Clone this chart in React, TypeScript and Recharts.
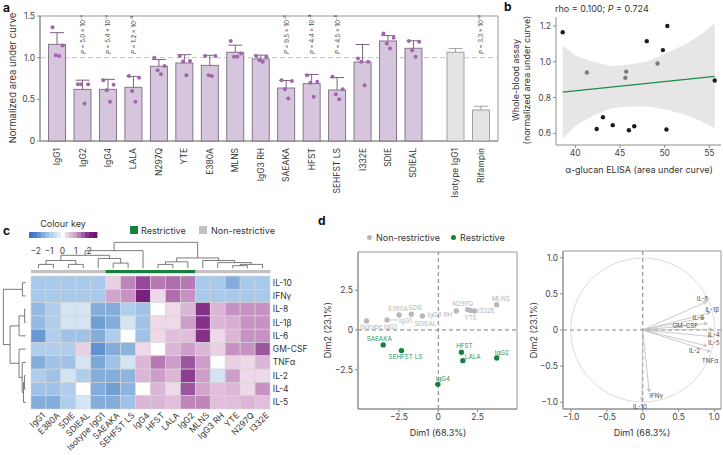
import React from "react";
import {
  ComposedChart,
  ScatterChart,
  Scatter,
  Line,
  Area,
  XAxis,
  YAxis,
  ErrorBar,
  ReferenceLine,
  ReferenceArea,
  ReferenceDot,
} from "recharts";

const FONT = "Inter, 'Liberation Sans', Arial, sans-serif";
const INK = "#333";
const AXIS = "#8c8c8c";
const GREEN = "#17803f";
const tickStyle = { fontSize: 8.5, fill: "#444", fontFamily: FONT };

// ---------- a: whole-blood assay ----------
const variants = ["IgG1", "IgG2", "IgG4", "LALA", "N297Q", "YTE", "E380A", "MLNS", "IgG3 RH", "SAEAKA", "HFST", "SEHFST LS", "I332E", "SDIE", "SDIEAL"];
const variantMean = [1.16, 0.62, 0.62, 0.645, 0.897, 0.936, 0.908, 1.065, 0.985, 0.636, 0.688, 0.612, 0.948, 1.2, 1.113];
const variantSd = [0.14, 0.11, 0.12, 0.13, 0.08, 0.1, 0.12, 0.085, 0.045, 0.09, 0.11, 0.15, 0.21, 0.065, 0.09];
const variantReps = [
  [1.365, 1.145, 1.03, 1.02],
  [0.68, 0.68, 0.68, 0.45],
  [0.73, 0.675, 0.61, 0.47],
  [0.78, 0.76, 0.6, 0.47],
  [1.0, 0.9, 0.85, 0.8],
  [1.02, 0.96, 0.955, 0.79],
  [1.02, 1.02, 0.79, 0.78],
  [1.2, 1.05, 1.01, 1.01],
  [1.02, 1.01, 0.97, 0.95],
  [0.73, 0.72, 0.62, 0.51],
  [0.79, 0.71, 0.7, 0.53],
  [0.77, 0.62, 0.56, 0.5],
  [0.99, 0.95, 0.95, 0.67],
  [1.29, 1.24, 1.17, 1.11],
  [1.2, 1.19, 1.09, 1.01],
];
const controls = ["Isotype IgG1", "Rifampin"];
const controlMean = [1.065, 0.372];
const controlSd = [0.045, 0.045];
const pNames = ["IgG2", "IgG4", "LALA", "SAEAKA", "HFST", "SEHFST LS", "Rifampin"];
const pTexts = ["5.0 × 10⁻⁴", "5.4 × 10⁻⁴", "1.2 × 10⁻³", "9.5 × 10⁻⁵", "4.4 × 10⁻³", "4.5 × 10⁻⁵", "3.3 × 10⁻⁶"];

// ---------- b: correlation ----------
const elisaX = [38.6, 41.3, 42.4, 43.1, 44.2, 45.6, 45.7, 46.0, 46.6, 48.0, 49.2, 49.8, 50.3, 50.2, 55.6];
const bloodY = [1.165, 0.94, 0.624, 0.69, 0.646, 0.91, 0.945, 0.617, 0.64, 1.115, 0.99, 1.065, 1.2, 0.622, 0.895];
const greyPoint = [false, true, false, false, false, true, true, false, false, false, true, false, false, false, false];
const fitX = [38.6, 55.6];
const fitY = [0.83, 0.918];
const bandX = [38.6, 40, 42, 44, 46, 48, 50, 52, 54, 55.6];
const bandLo = [0.57, 0.64, 0.7, 0.74, 0.75, 0.75, 0.735, 0.71, 0.67, 0.628];
const bandHi = [1.09, 1.035, 1.0, 0.975, 0.985, 1.0, 1.045, 1.09, 1.15, 1.217];

// ---------- c: heatmap ----------
const cytokines = ["IL-10", "IFNγ", "IL-8", "IL-1β", "IL-6", "GM-CSF", "TNFα", "IL-2", "IL-4", "IL-5"];
const heatCols = ["IgG1", "E380A", "SDIE", "SDIEAL", "Isotype IgG1", "SAEAKA", "SEHFST LS", "IgG4", "HFST", "LALA", "IgG2", "MLNS", "IgG3 RH", "YTE", "N297Q", "I332E"];
const restrictive = ["SAEAKA", "SEHFST LS", "IgG4", "HFST", "LALA", "IgG2"];
const zScores = [
  [-1, -1, -1, -1, -1, 0.4, 1.2, 1.7, 1.3, 1.4, 1.3, -1, -1, -1.4, -1, -1],
  [-1, -1, -1, -1, -1, 0.9, 1.1, 2.1, 0.3, 1.4, 1.1, -1, -1, -1, -1, -1],
  [-1.2, -0.9, -0.4, -0.4, -1.4, -1.4, -0.9, -1.1, 0, 0.3, 0.7, 1.9, 0.7, 1.1, 1.1, 1.1],
  [-1.2, -0.9, -0.4, -0.4, -1.6, -1.4, -0.4, -1.1, 0.3, 0.3, 1.0, 1.9, 0.7, 0.8, 1.1, 1.1],
  [-1.7, -0.9, -1.1, -1.1, -1.4, -0.9, 0, -1.1, 0.3, 0.6, 0.6, 1.9, 0.3, 0.7, 1.1, 1.1],
  [-0.9, -0.9, -0.9, 0.4, -1.8, -1.4, -1.3, 0.3, 0, 0.7, 1.0, 0.7, 0.4, 1.1, 1.1, 1.6],
  [-1.4, -1.1, -1.1, -0.4, -1.5, -1.1, -0.4, 0.7, 1.3, 1.0, 1.6, 1.0, 0, 0.4, 0.3, 0.7],
  [-0.9, -1.1, -0.4, -0.9, -1.4, -1.4, -1.3, 0.7, 1.0, 0.7, 1.8, 1.0, -0.4, 1.0, 0.3, 0.3],
  [-1.1, -1.1, -0.9, 0, -1.4, -1.6, -1.3, 0, 0.7, 0.3, 1.6, 0.9, 0.6, 0.7, 0.3, 1.1],
  [-1.4, -1.4, -0.9, -0.4, -1.4, -1.4, -1.1, 0.7, 0.7, 0.6, 1.2, 1.2, 0.6, 0.6, 0.7, 0.6],
];
// [left, right, height]; ids >= n refer to earlier merges
const colMerges = [
  [0, 1, 0.15], [2, 3, 0.15], [16, 17, 0.3], [5, 6, 0.2], [4, 19, 0.38], [18, 20, 0.5], [21, 7, 0.68],
  [8, 9, 0.15], [23, 10, 0.25], [13, 14, 0.1], [25, 15, 0.15], [12, 26, 0.22], [11, 27, 0.3], [24, 28, 0.4], [22, 29, 1.0],
];
const rowMerges = [
  [0, 1, 0.15], [2, 3, 0.05], [11, 4, 0.3], [7, 8, 0.06], [13, 9, 0.1], [6, 14, 0.16], [5, 15, 0.3], [12, 16, 0.7], [10, 17, 1.0],
];
const keySteps = [-2.35, -2.05, -1.75, -1.45, -1.15, -0.85, -0.55, -0.25, 0.05, 0.35, 0.65, 0.95, 1.25, 1.55, 1.85, 2.15, 2.45];
const COLOR_STOPS: [number, string][] = [
  [-2.5, "#3b6db6"], [-2, "#4d84c8"], [-1, "#a8c9e9"], [-0.3, "#dde9f5"], [0, "#ffffff"],
  [0.3, "#eed8e9"], [1, "#cf9dca"], [2, "#7c2581"], [2.5, "#68126d"],
];

// ---------- d: PCA ----------
const pcaNames = ["Isotype IgG1", "IgG1", "E380A", "SDIE", "SDIEAL", "IgG3 RH", "N297Q", "YTE", "I332E", "MLNS", "SAEAKA", "SEHFST LS", "HFST", "LALA", "IgG2", "IgG4"];
const dim1 = [-4.56, -3.25, -2.49, -1.71, -1.01, 1.14, 1.87, 2.05, 2.3, 3.71, -3.5, -2.34, 1.47, 1.56, 3.71, -0.03];
const dim2 = [0.57, 0.63, 0.94, 0.99, 0.88, 1.19, 1.28, 1.22, 1.19, 1.59, -0.94, -1.3, -1.4, -1.93, -1.76, -3.42];
const loadNames = ["IL-8", "IL-1β", "IL-6", "GM-CSF", "IL-4", "IL-5", "IL-2", "TNFα", "IFNγ", "IL-10"];
const loadDim1 = [0.89, 0.94, 0.86, 0.9, 0.965, 0.95, 0.89, 0.94, 0.09, -0.01];
const loadDim2 = [0.39, 0.24, 0.17, 0.09, 0.01, -0.09, -0.22, -0.3, -0.85, -0.98];

// label placement (px offsets from the point), kept apart from the data
const PCA_LABEL: Record<string, [number, number, string]> = {
  "Isotype IgG1": [12, 8, "middle"], IgG1: [12, 3, "start"], E380A: [-1, -4, "middle"], SDIE: [4, -4, "middle"],
  SDIEAL: [3, 10, "middle"], "IgG3 RH": [-4, 6, "end"], N297Q: [-5, -4, "middle"], YTE: [0, 9, "middle"],
  I332E: [3, 2, "start"], MLNS: [4, -4, "middle"], SAEAKA: [-4, -4, "middle"], "SEHFST LS": [4, 8, "middle"],
  HFST: [3, -4, "middle"], LALA: [2, -2, "start"], IgG2: [-2, -3, "start"], IgG4: [-2, -3, "start"],
};
const LOAD_LABEL: Record<string, [number, number]> = {
  "IL-8": [-4, -3], "IL-1β": [2, -3], "IL-6": [-6, 0], "GM-CSF": [-22, 3], "IL-4": [2, 6], "IL-5": [3, 6],
  "IL-2": [-12, 5], TNFα: [0, 9], IFNγ: [7, 5], "IL-10": [-2, 6],
};

function place(L: number, T: number, W: number, H: number, x1: number, y1: number, x2: number, y2: number, yw = 1, xh = 1) {
  return {
    box: { position: "absolute" as const, left: L, top: T, width: W, height: H },
    width: W,
    height: H,
    margin: { left: x1 - L - yw, top: y1 - T, right: L + W - x2, bottom: T + H - y2 - xh },
  };
}

function hex(c: string) {
  return [1, 3, 5].map((i) => parseInt(c.slice(i, i + 2), 16));
}
function heatColor(v: number) {
  const s = COLOR_STOPS;
  if (v <= s[0][0]) return s[0][1];
  for (let i = 1; i < s.length; i++) {
    if (v <= s[i][0]) {
      const t = (v - s[i - 1][0]) / (s[i][0] - s[i - 1][0]);
      const a = hex(s[i - 1][1]);
      const b = hex(s[i][1]);
      return `rgb(${a.map((x, k) => Math.round(x + (b[k] - x) * t)).join(",")})`;
    }
  }
  return s[s.length - 1][1];
}
const fmt1 = (v: number) => (v === 0 ? "0" : v.toFixed(1).replace("-", "−"));

function dendro(n: number, merges: number[][]) {
  const pos: number[] = [];
  const ht: number[] = [];
  for (let i = 0; i < n; i++) {
    pos[i] = i + 0.5;
    ht[i] = 0;
  }
  const segs: [number, number, number, number][] = [];
  merges.forEach(([l, r, h], k) => {
    pos[n + k] = (pos[l] + pos[r]) / 2;
    ht[n + k] = h;
    segs.push([pos[l], ht[l], pos[l], h]);
    segs.push([pos[r], ht[r], pos[r], h]);
    segs.push([pos[l], h, pos[r], h]);
  });
  return segs;
}

const noShape = () => <g />;

function PanelA() {
  const g = place(0, 0, 503, 215, 40, 16, 498, 141);
  const BASE = 141; // pixel row of y = 0 inside this chart
  const XMIN = 0.33;
  const XMAX = 18.32;
  const rows = [
    ...variants.map((name, i) => ({ x: i + 1, name, mean: variantMean[i], sd: variantSd[i], ctrl: false })),
    ...controls.map((name, j) => ({ x: variants.length + 1.65 + j, name, mean: controlMean[j], sd: controlSd[j], ctrl: true })),
  ];
  const JITTER = [-0.18, 0.22, -0.05, 0.08];
  const dots = variants.flatMap((name, i) => variantReps[i].map((v, k) => ({ x: i + 1 + JITTER[k], v })));
  const pRows = pNames.map((n, i) => ({ x: rows.find((r) => r.name === n)!.x, y: 1.045, text: pTexts[i] }));
  const nameAt = (x: number) => rows.find((r) => Math.abs(r.x - x) < 1e-6)?.name ?? "";
  const barShape = (p: any) => (
    <rect
      x={p.cx - 8.5}
      y={p.cy}
      width={17}
      height={BASE - p.cy}
      fill={p.payload.ctrl ? "#e4e4e4" : "#d6c6dd"}
      stroke={p.payload.ctrl ? "#9a9a9a" : "#7b6a80"}
      strokeWidth={0.9}
    />
  );
  return (
    <div style={g.box}>
      <ComposedChart width={g.width} height={g.height} margin={g.margin} data={rows}>
        <ReferenceArea x1={XMIN} x2={XMAX} y1={0} y2={1.5} fill="none" stroke={AXIS} strokeWidth={0.9} ifOverflow="visible" />
        <XAxis
          type="number"
          dataKey="x"
          domain={[XMIN, XMAX]}
          ticks={rows.map((r) => r.x)}
          interval={0}
          height={1}
          stroke={AXIS}
          tickLine={false}
          tick={(p: any) => (
            <text x={p.x} y={p.y - 1} transform={`rotate(-90 ${p.x} ${p.y - 1})`} textAnchor="end" dominantBaseline="central" fontSize={8.5} fill={INK} fontFamily={FONT}>
              {nameAt(p.payload.value)}
            </text>
          )}
        />
        <YAxis type="number" domain={[0, 1.5]} ticks={[0, 0.5, 1, 1.5]} width={1} stroke={AXIS} tickSize={3} tick={tickStyle} tickFormatter={fmt1} />
        <Scatter data={rows} dataKey="mean" shape={barShape} isAnimationActive={false} />
        <ReferenceLine y={1} stroke="#c4c4c4" strokeDasharray="5 3" strokeWidth={1} />
        <Scatter data={rows.filter((r) => !r.ctrl)} dataKey="mean" shape={noShape} isAnimationActive={false}>
          <ErrorBar dataKey="sd" width={7} stroke="#6b5670" strokeWidth={0.9} direction="y" />
        </Scatter>
        <Scatter data={rows.filter((r) => r.ctrl)} dataKey="mean" shape={noShape} isAnimationActive={false}>
          <ErrorBar dataKey="sd" width={7} stroke="#9a9a9a" strokeWidth={0.9} direction="y" />
        </Scatter>
        <Scatter data={dots} dataKey="v" isAnimationActive={false} shape={(p: any) => <circle cx={p.cx} cy={p.cy} r={2} fill="#a265ad" />} />
        <Scatter
          data={pRows}
          dataKey="y"
          isAnimationActive={false}
          shape={(p: any) => (
            <text x={p.cx} y={p.cy} transform={`rotate(-90 ${p.cx} ${p.cy})`} textAnchor="start" dominantBaseline="central" fontSize={6} fill="#444" fontFamily={FONT}>
              <tspan fontStyle="italic">P</tspan> = {p.payload.text}
            </text>
          )}
        />
        <text x={12} y={78} transform="rotate(-90 12 78)" textAnchor="middle" dominantBaseline="central" fontSize={9.5} fill={INK} fontFamily={FONT}>
          Normalized area under curve
        </text>
      </ComposedChart>
    </div>
  );
}

function PanelB() {
  const g = place(500, 0, 223, 185, 556, 17, 721, 145);
  const band = bandX.map((x, i) => ({ x, range: [bandLo[i], bandHi[i]], fit: fitX.includes(x) ? fitY[fitX.indexOf(x)] : null }));
  const pts = elisaX.map((x, i) => ({ x, y: bloodY[i], grey: greyPoint[i] }));
  return (
    <div style={g.box}>
      <ComposedChart width={g.width} height={g.height} margin={g.margin} data={band}>
        <XAxis type="number" dataKey="x" domain={[37.85, 56.3]} ticks={[40, 45, 50, 55]} height={1} stroke={AXIS} tickSize={3} tick={tickStyle} />
        <YAxis type="number" domain={[0.535, 1.25]} ticks={[0.6, 0.8, 1.0, 1.2]} width={1} stroke={AXIS} tickSize={3} tick={tickStyle} tickFormatter={fmt1} />
        <Area dataKey="range" fill="#e6e6e6" fillOpacity={1} stroke="none" isAnimationActive={false} />
        <Line dataKey="fit" connectNulls stroke="#1f8a4c" strokeWidth={1.2} dot={false} isAnimationActive={false} />
        <Scatter data={pts.filter((p) => !p.grey)} dataKey="y" isAnimationActive={false} shape={(p: any) => <circle cx={p.cx} cy={p.cy} r={2.2} fill="#1b1b1b" />} />
        <Scatter data={pts.filter((p) => p.grey)} dataKey="y" isAnimationActive={false} shape={(p: any) => <circle cx={p.cx} cy={p.cy} r={2.2} fill="#7d7d7d" />} />
        <text x={55} y={12} fontSize={9} fill={INK} fontFamily={FONT}>
          rho = 0.100; <tspan fontStyle="italic">P</tspan> = 0.724
        </text>
        <text x={15} y={80} transform="rotate(-90 15 80)" textAnchor="middle" dominantBaseline="central" fontSize={9} fill={INK} fontFamily={FONT}>
          Whole-blood assay
        </text>
        <text x={26} y={80} transform="rotate(-90 26 80)" textAnchor="middle" dominantBaseline="central" fontSize={9} fill={INK} fontFamily={FONT}>
          (normalized area under curve)
        </text>
        <text x={139} y={173} textAnchor="middle" fontSize={9} fill={INK} fontFamily={FONT}>
          α-glucan ELISA (area under curve)
        </text>
      </ComposedChart>
    </div>
  );
}

function ColourKey() {
  const g = place(18, 216, 96, 40, 30, 232, 97, 238);
  const lo = -2.5;
  const hi = 2.6;
  const stepW = ((97 - 30) / (hi - lo)) * 0.3;
  const steps = keySteps.map((v) => ({ x: v, y: 0.5, v }));
  return (
    <div style={g.box}>
      <ComposedChart width={g.width} height={g.height} margin={g.margin} data={steps}>
        <XAxis type="number" dataKey="x" domain={[lo, hi]} ticks={[-2, -1, 0, 1, 2]} interval={0} height={1} axisLine={false} tickLine={false} tick={{ ...tickStyle, dy: 2 }} tickFormatter={(v: number) => String(v).replace("-", "−")} />
        <YAxis type="number" domain={[0, 1]} hide />
        <Scatter
          data={steps}
          dataKey="y"
          isAnimationActive={false}
          shape={(p: any) => <rect x={p.cx - stepW / 2} y={p.cy - 3} width={stepW + 0.4} height={6} fill={heatColor(p.payload.v)} />}
        />
        <text x={45} y={11} textAnchor="middle" fontSize={9} fill={INK} fontFamily={FONT}>
          Colour key
        </text>
      </ComposedChart>
    </div>
  );
}

function PanelC() {
  const nC = heatCols.length;
  const nR = cytokines.length;
  const XMIN = -1.95;
  const YMIN = -2.8;
  const cw = (270 - 31) / nC;
  const rh = (409 - 276) / nR;
  const g = place(0, 218, 320, 237, 31 + XMIN * cw, 276 + YMIN * rh, 270, 409, 0, 0);
  const cells = zScores.flatMap((row, r) => row.map((v, c) => ({ x: c + 0.5, y: r + 0.5, v })));
  const rowLab = cytokines.map((name, r) => ({ x: nC - 0.01, y: r + 0.5, name }));
  const colLab = heatCols.map((name, c) => ({ x: c + 0.5, y: nR - 0.01, name }));
  const groupBar = heatCols.map((name, c) => ({ x: c + 0.5, y: -0.33, on: restrictive.includes(name) }));
  const colSegs = dendro(nC, colMerges).map(([p1, h1, p2, h2]) => [
    { x: p1, y: -0.58 - h1 * 1.95 },
    { x: p2, y: -0.58 - h2 * 1.95 },
  ]);
  const rowSegs = dendro(nR, rowMerges).map(([p1, h1, p2, h2]) => [
    { x: -0.35 - h1 * 1.5, y: p1 },
    { x: -0.35 - h2 * 1.5, y: p2 },
  ]);
  return (
    <div style={g.box}>
      <ScatterChart width={g.width} height={g.height} margin={g.margin}>
        <XAxis type="number" dataKey="x" domain={[XMIN, nC]} hide />
        <YAxis type="number" dataKey="y" domain={[YMIN, nR]} reversed hide />
        <Scatter
          data={cells}
          isAnimationActive={false}
          shape={(p: any) => (
            <rect x={p.cx - cw / 2} y={p.cy - rh / 2} width={cw} height={rh} fill={heatColor(p.payload.v)} stroke="#d5d5d5" strokeWidth={0.6} />
          )}
        />
        <Scatter
          data={groupBar}
          isAnimationActive={false}
          shape={(p: any) => <rect x={p.cx - cw / 2} y={p.cy - 1.6} width={cw + 0.3} height={3.2} fill={p.payload.on ? GREEN : "#c2c2c2"} />}
        />
        {colSegs.map((s, i) => (
          <ReferenceLine key={"c" + i} segment={s} stroke="#5a5a5a" strokeWidth={0.8} ifOverflow="visible" />
        ))}
        {rowSegs.map((s, i) => (
          <ReferenceLine key={"r" + i} segment={s} stroke="#5a5a5a" strokeWidth={0.8} ifOverflow="visible" />
        ))}
        <Scatter
          data={rowLab}
          isAnimationActive={false}
          shape={(p: any) => (
            <text x={p.cx + 3} y={p.cy} dominantBaseline="central" fontSize={8.5} fill={INK} fontFamily={FONT}>
              {p.payload.name}
            </text>
          )}
        />
        <Scatter
          data={colLab}
          isAnimationActive={false}
          shape={(p: any) => (
            <text x={p.cx + 5} y={p.cy + 5} transform={`rotate(-45 ${p.cx + 5} ${p.cy + 5})`} textAnchor="end" dominantBaseline="central" fontSize={8.5} fill={INK} fontFamily={FONT}>
              {p.payload.name}
            </text>
          )}
        />
      </ScatterChart>
    </div>
  );
}

function PcaScores() {
  const g = place(300, 244, 222, 200, 358, 252, 517, 409);
  const pts = pcaNames.map((name, i) => ({ x: dim1[i], y: dim2[i], name, on: restrictive.includes(name) }));
  const shape = (p: any) => {
    const { name, on } = p.payload;
    const [dx, dy, anchor] = PCA_LABEL[name];
    const col = on ? GREEN : "#b9b9b9";
    return (
      <g>
        {name === "IgG1" && <line x1={p.cx + 3} y1={p.cy} x2={p.cx + 11} y2={p.cy} stroke="#b9b9b9" strokeWidth={0.7} />}
        <circle cx={p.cx} cy={p.cy} r={2.7} fill={col} />
        <text x={p.cx + dx} y={p.cy + dy} textAnchor={anchor as any} fontSize={6.3} fill={on ? "#2f9457" : "#b3b3b3"} fontFamily={FONT}>
          {name}
        </text>
      </g>
    );
  };
  return (
    <div style={g.box}>
      <ScatterChart width={g.width} height={g.height} margin={g.margin}>
        <ReferenceArea x1={-5.1} x2={5.0} y1={-4.97} y2={4.9} fill="none" stroke={AXIS} strokeWidth={0.9} ifOverflow="visible" />
        <XAxis type="number" dataKey="x" domain={[-5.1, 5.0]} ticks={[-2.5, 0, 2.5]} height={1} stroke={AXIS} tickSize={3} tick={tickStyle} tickFormatter={fmt1} />
        <YAxis type="number" dataKey="y" domain={[-4.97, 4.9]} ticks={[-2.5, 0, 2.5]} width={1} stroke={AXIS} tickSize={3} tick={tickStyle} tickFormatter={fmt1} />
        <ReferenceLine x={0} stroke="#7a7a7a" strokeDasharray="4 3" strokeWidth={1} />
        <ReferenceLine y={0} stroke="#7a7a7a" strokeDasharray="4 3" strokeWidth={1} />
        <Scatter data={pts.filter((p) => !p.on)} isAnimationActive={false} shape={shape} />
        <Scatter data={pts.filter((p) => p.on)} isAnimationActive={false} shape={shape} />
        <text x={27} y={86} transform="rotate(-90 27 86)" textAnchor="middle" dominantBaseline="central" fontSize={9} fill={INK} fontFamily={FONT}>
          Dim2 (23.1%)
        </text>
        <text x={138} y={192} textAnchor="middle" fontSize={9} fill={INK} fontFamily={FONT}>
          Dim1 (68.3%)
        </text>
      </ScatterChart>
    </div>
  );
}

function Arrow(p: any) {
  const { x1, y1, x2, y2 } = p;
  const a = Math.atan2(y2 - y1, x2 - x1);
  const L = 3.5;
  const h1 = [x2 - L * Math.cos(a - 0.45), y2 - L * Math.sin(a - 0.45)];
  const h2 = [x2 - L * Math.cos(a + 0.45), y2 - L * Math.sin(a + 0.45)];
  return (
    <g>
      <line x1={x1} y1={y1} x2={x2} y2={y2} stroke="#bdbdbd" strokeWidth={0.8} />
      <polyline points={`${h1[0]},${h1[1]} ${x2},${y2} ${h2[0]},${h2[1]}`} stroke="#a8a8a8" strokeWidth={0.8} fill="none" />
    </g>
  );
}

function PcaLoadings() {
  const g = place(522, 244, 201, 200, 563, 251, 721, 409);
  const load = loadNames.map((name, i) => ({ x: loadDim1[i], y: loadDim2[i], name }));
  return (
    <div style={g.box}>
      <ScatterChart width={g.width} height={g.height} margin={g.margin}>
        <ReferenceArea x1={-1.112} x2={1.092} y1={-1.093} y2={1.093} fill="none" stroke={AXIS} strokeWidth={0.9} ifOverflow="visible" />
        <XAxis type="number" dataKey="x" domain={[-1.112, 1.092]} ticks={[-1, -0.5, 0, 0.5, 1]} height={1} stroke={AXIS} tickSize={3} tick={tickStyle} tickFormatter={fmt1} />
        <YAxis type="number" dataKey="y" domain={[-1.093, 1.093]} ticks={[-1, -0.5, 0, 0.5, 1]} width={1} stroke={AXIS} tickSize={3} tick={tickStyle} tickFormatter={fmt1} />
        <ReferenceDot x={0} y={0} r={72} fill="none" stroke="#d2d2d2" strokeWidth={0.8} ifOverflow="visible" />
        <ReferenceLine x={0} stroke="#8a8a8a" strokeDasharray="4 3" strokeWidth={1.1} />
        <ReferenceLine y={0} stroke="#8a8a8a" strokeDasharray="4 3" strokeWidth={1.1} />
        {load.map((l) => (
          <ReferenceLine key={l.name} segment={[{ x: 0, y: 0 }, { x: l.x, y: l.y }]} shape={Arrow} stroke="#bdbdbd" ifOverflow="visible" />
        ))}
        <Scatter
          data={load}
          isAnimationActive={false}
          shape={(p: any) => {
            const [dx, dy] = LOAD_LABEL[p.payload.name];
            return (
              <text x={p.cx + dx} y={p.cy + dy} textAnchor="middle" dominantBaseline="central" fontSize={6.3} fill="#4d4d4d" fontFamily={FONT}>
                {p.payload.name}
              </text>
            );
          }}
        />
        <text x={11} y={86} transform="rotate(-90 11 86)" textAnchor="middle" dominantBaseline="central" fontSize={9} fill={INK} fontFamily={FONT}>
          Dim2 (23.1%)
        </text>
        <text x={120} y={192} textAnchor="middle" fontSize={9} fill={INK} fontFamily={FONT}>
          Dim1 (68.3%)
        </text>
      </ScatterChart>
    </div>
  );
}

const panelLabel = (t: string, x: number, y: number) => (
  <div style={{ position: "absolute", left: x, top: y, fontWeight: 700, fontSize: 12, fontFamily: FONT, color: "#111", lineHeight: 1 }}>{t}</div>
);
const legendText = { position: "absolute" as const, fontSize: 9, fontFamily: FONT, color: INK, lineHeight: 1, whiteSpace: "nowrap" as const };

export default function App() {
  return (
    <div style={{ position: "absolute", left: 0, top: 0, width: 723, height: 455, background: "#fff", overflow: "hidden" }}>
      <PanelA />
      <PanelB />
      <ColourKey />
      <PanelC />
      <PcaScores />
      <PcaLoadings />
      {panelLabel("a", 3, 2)}
      {panelLabel("b", 504, 1)}
      {panelLabel("c", 3, 225)}
      {panelLabel("d", 318, 215)}
      <div style={{ position: "absolute", left: 130, top: 226, width: 8, height: 8, background: GREEN }} />
      <div style={{ ...legendText, left: 141, top: 226 }}>Restrictive</div>
      <div style={{ position: "absolute", left: 199, top: 226, width: 8, height: 8, background: "#c2c2c2" }} />
      <div style={{ ...legendText, left: 211, top: 226 }}>Non-restrictive</div>
      <div style={{ position: "absolute", left: 367, top: 235, width: 5, height: 5, borderRadius: 3, background: "#b9b9b9" }} />
      <div style={{ ...legendText, left: 376, top: 233 }}>Non-restrictive</div>
      <div style={{ position: "absolute", left: 451, top: 235, width: 5, height: 5, borderRadius: 3, background: GREEN }} />
      <div style={{ ...legendText, left: 460, top: 233 }}>Restrictive</div>
    </div>
  );
}
